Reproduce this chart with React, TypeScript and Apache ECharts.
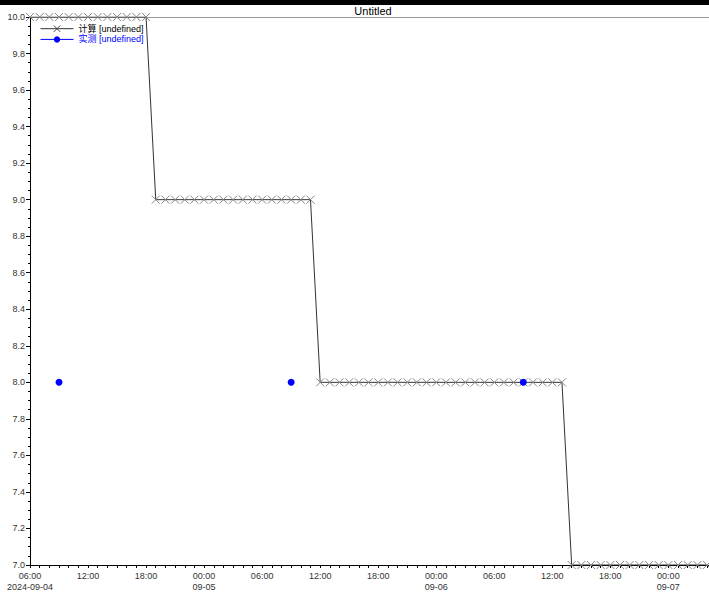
import React, { useEffect, useRef } from "react";
import * as echarts from "echarts";

const baseTime = "2024-09-04 06:00";

const calcTimes = [
  "2024-09-04 06:00", "2024-09-04 07:00", "2024-09-04 08:00", "2024-09-04 09:00", "2024-09-04 10:00",
  "2024-09-04 11:00", "2024-09-04 12:00", "2024-09-04 13:00", "2024-09-04 14:00", "2024-09-04 15:00",
  "2024-09-04 16:00", "2024-09-04 17:00", "2024-09-04 18:00", "2024-09-04 19:00", "2024-09-04 20:00",
  "2024-09-04 21:00", "2024-09-04 22:00", "2024-09-04 23:00", "2024-09-05 00:00", "2024-09-05 01:00",
  "2024-09-05 02:00", "2024-09-05 03:00", "2024-09-05 04:00", "2024-09-05 05:00", "2024-09-05 06:00",
  "2024-09-05 07:00", "2024-09-05 08:00", "2024-09-05 09:00", "2024-09-05 10:00", "2024-09-05 11:00",
  "2024-09-05 12:00", "2024-09-05 13:00", "2024-09-05 14:00", "2024-09-05 15:00", "2024-09-05 16:00",
  "2024-09-05 17:00", "2024-09-05 18:00", "2024-09-05 19:00", "2024-09-05 20:00", "2024-09-05 21:00",
  "2024-09-05 22:00", "2024-09-05 23:00", "2024-09-06 00:00", "2024-09-06 01:00", "2024-09-06 02:00",
  "2024-09-06 03:00", "2024-09-06 04:00", "2024-09-06 05:00", "2024-09-06 06:00", "2024-09-06 07:00",
  "2024-09-06 08:00", "2024-09-06 09:00", "2024-09-06 10:00", "2024-09-06 11:00", "2024-09-06 12:00",
  "2024-09-06 13:00", "2024-09-06 14:00", "2024-09-06 15:00", "2024-09-06 16:00", "2024-09-06 17:00",
  "2024-09-06 18:00", "2024-09-06 19:00", "2024-09-06 20:00", "2024-09-06 21:00", "2024-09-06 22:00",
  "2024-09-06 23:00", "2024-09-07 00:00", "2024-09-07 01:00", "2024-09-07 02:00", "2024-09-07 03:00",
  "2024-09-07 04:00",
];

const calcValues = [
  10.0, 10.0, 10.0, 10.0, 10.0, 10.0, 10.0, 10.0, 10.0, 10.0, 10.0, 10.0, 10.0,
  9.0, 9.0, 9.0, 9.0, 9.0, 9.0, 9.0, 9.0, 9.0, 9.0, 9.0, 9.0, 9.0, 9.0, 9.0, 9.0, 9.0,
  8.0, 8.0, 8.0, 8.0, 8.0, 8.0, 8.0, 8.0, 8.0, 8.0, 8.0, 8.0, 8.0,
  8.0, 8.0, 8.0, 8.0, 8.0, 8.0, 8.0, 8.0, 8.0, 8.0, 8.0, 8.0, 8.0,
  7.0, 7.0, 7.0, 7.0, 7.0, 7.0, 7.0, 7.0, 7.0, 7.0, 7.0, 7.0, 7.0, 7.0, 7.0,
];

const measTimes = ["2024-09-04 09:00", "2024-09-05 09:00", "2024-09-06 09:00"];
const measValues = [8.0, 8.0, 8.0];

const seriesNames = ["计算 [undefined]", "实测 [undefined]"];
const yTickLabels = ["7.0", "7.2", "7.4", "7.6", "7.8", "8.0", "8.2", "8.4", "8.6", "8.8", "9.0", "9.2", "9.4", "9.6", "9.8", "10.0"];

function parseTime(s: string): Date {
  const [d, t] = s.split(" ");
  const [y, m, day] = d.split("-").map(Number);
  const [h, mi] = t.split(":").map(Number);
  return new Date(y, m - 1, day, h, mi);
}
const base = parseTime(baseTime).getTime();
const toHours = (s: string) => (parseTime(s).getTime() - base) / 3600000;

const pad = (n: number) => (n < 10 ? "0" + n : "" + n);

export default function App() {
  const ref = useRef<HTMLDivElement>(null);
  useEffect(() => {
    if (!ref.current) return;
    const chart = echarts.init(ref.current, null, { renderer: "svg" });
    const font = "Liberation Sans, Arial, Noto Sans CJK SC, sans-serif";
    const calcData = calcTimes.map((t, i) => [toHours(t), calcValues[i]]);
    const measData = measTimes.map((t, i) => [toHours(t), measValues[i]]);
    chart.setOption({
      animation: false,
      backgroundColor: "#ffffff",
      textStyle: { fontFamily: font },
      graphic: [
        { type: "rect", shape: { x: 0, y: 0, width: 709, height: 5 }, style: { fill: "#000" }, z: 100 },
        {
          type: "text", x: 373, y: 11,
          style: { text: "Untitled", fill: "#000", font: "11px " + font, textAlign: "center", textVerticalAlign: "middle" },
          z: 100,
        },
        { type: "line", shape: { x1: 30, y1: 17.5, x2: 709, y2: 17.5 }, style: { stroke: "#999", lineWidth: 1 }, z: 0 },
      ],
      legend: {
        left: 40, top: 23, orient: "vertical", itemWidth: 33, itemHeight: 8, itemGap: 0, padding: 0,
        textStyle: { fontSize: 9, fontFamily: font, lineHeight: 10 },
        data: [
          {
            name: seriesNames[0], textStyle: { color: "#000" },
            lineStyle: { color: "#333", width: 1 },
            itemStyle: { color: "none", borderColor: "#444", borderWidth: 1 },
          },
          { name: seriesNames[1], textStyle: { color: "#0000ff" }, lineStyle: { color: "#0000ff", width: 1, opacity: 1 } },
        ],
      },
      grid: { left: 30, top: 17, right: 0, bottom: 26, containLabel: false },
      xAxis: {
        type: "value", min: 0, max: 70.2, interval: 6,
        axisLine: { lineStyle: { color: "#000", width: 1 } },
        axisTick: { length: 3, lineStyle: { color: "#000" } },
        minorTick: { show: true, splitNumber: 6, length: 3, lineStyle: { color: "#000" } },
        splitLine: { show: false },
        axisLabel: {
          fontSize: 9, color: "#333", margin: 5, lineHeight: 11, showMaxLabel: false,
          formatter: (v: number) => {
            const d = new Date(base + v * 3600000);
            const hm = pad(d.getHours()) + ":" + pad(d.getMinutes());
            if (v === 0) return hm + "\n" + d.getFullYear() + "-" + pad(d.getMonth() + 1) + "-" + pad(d.getDate());
            if (d.getHours() === 0) return hm + "\n" + pad(d.getMonth() + 1) + "-" + pad(d.getDate());
            return hm;
          },
        },
      },
      yAxis: {
        type: "value", min: 7, max: 10, interval: 0.2,
        axisLine: { show: true, lineStyle: { color: "#000", width: 1 } },
        axisTick: { show: true, length: 4, lineStyle: { color: "#000" } },
        minorTick: { show: true, splitNumber: 4, length: 2, lineStyle: { color: "#000" } },
        splitLine: { show: false },
        axisLabel: {
          fontSize: 9, color: "#333", margin: 5,
          formatter: (v: number) => yTickLabels[Math.round((v - 7) / 0.2)] ?? v.toFixed(1),
        },
      },
      series: [
        {
          name: seriesNames[0], type: "line", data: calcData,
          symbol: "path://M0,0L10,10M10,0L0,10", symbolSize: 8, showAllSymbol: true,
          itemStyle: { color: "none", borderColor: "#888", borderWidth: 1 },
          lineStyle: { color: "#333", width: 1 },
          z: 2,
        },
        {
          name: seriesNames[1], type: "line", data: measData,
          symbol: "circle", symbolSize: 7,
          itemStyle: { color: "#0000ff" },
          lineStyle: { color: "#0000ff", width: 1, opacity: 0 },
          z: 3,
        },
      ],
    });
    return () => chart.dispose();
  }, []);
  return <div ref={ref} style={{ position: "fixed", left: 0, top: 0, width: 709, height: 592 }} />;
}
